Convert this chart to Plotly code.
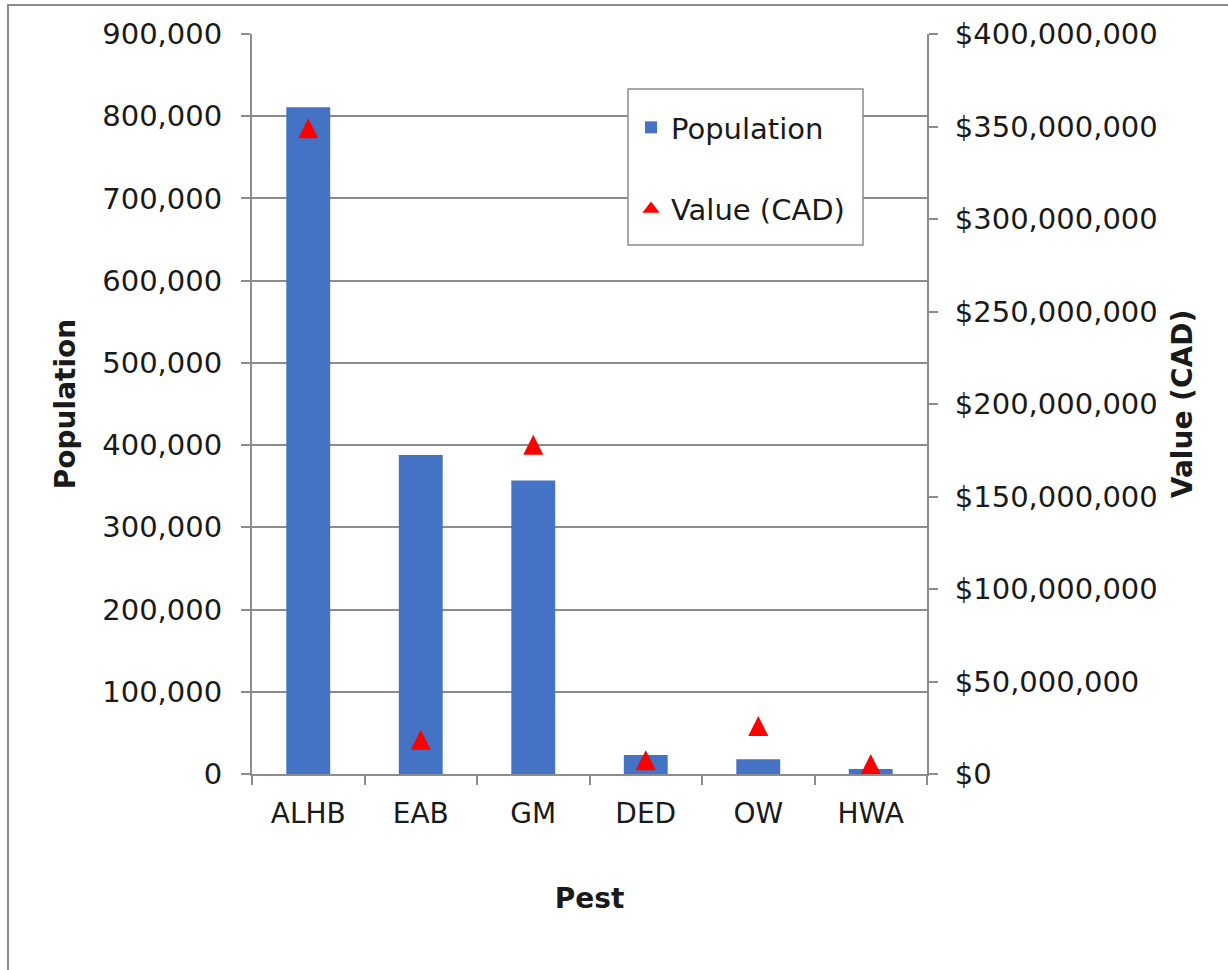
import plotly.graph_objects as go

# Pest categories and values
pests = ["ALHB", "EAB", "GM", "DED", "OW", "HWA"]
population = [811000, 388000, 357000, 23000, 18000, 6000]
value_cad = [349000000, 18500000, 178000000, 7500000, 26000000, 5400000]

left_ticks = [0, 100000, 200000, 300000, 400000, 500000, 600000, 700000, 800000, 900000]
right_ticks = [0, 50000000, 100000000, 150000000, 200000000, 250000000, 300000000, 350000000, 400000000]

FONT = "DejaVu Sans, Verdana, sans-serif"
GRAY = "#8c8c8c"
TXT = "#1a1a1a"
FS = 28
FS_TICK = 29
RED = "#FF0000"

# plot-area geometry in pixels
L, R, T, B = 252, 927, 34, 774
W, H = R - L, B - T

def px_x(x):
    return (x - L) / W

def px_y(y):
    return (B - y) / H

fig = go.Figure()

fig.add_trace(go.Bar(
    x=pests, y=population, name="Population",
    marker=dict(color="#4472C4", line=dict(width=0)),
    width=0.39, legendgroup="a",
))

# upright triangle centred on each value (arrow-down flipped, pulled back by half its height)
fig.add_trace(go.Scatter(
    x=pests, y=value_cad, name="Value (CAD)", yaxis="y2",
    mode="markers",
    marker=dict(symbol="arrow-down", angle=180, standoff=10, size=20,
                color=RED, line=dict(width=0)),
    legendgroup="b", showlegend=False,
))

# legend key for the value series
fig.add_trace(go.Scatter(
    x=[None], y=[None], name="Value (CAD)", yaxis="y2",
    mode="markers",
    marker=dict(symbol="triangle-up", size=15, color=RED, line=dict(width=0)),
    legendgroup="b",
))

fig.update_layout(
    width=1228, height=970,
    margin=dict(l=L, r=1228 - R, t=T, b=970 - B),
    paper_bgcolor="white", plot_bgcolor="white",
    font=dict(family=FONT, size=FS, color=TXT),
    showlegend=True,
    legend=dict(
        x=px_x(631), y=px_y(102), xanchor="left", yanchor="top",
        bgcolor="rgba(0,0,0,0)", borderwidth=0,
        font=dict(family=FONT, size=FS_TICK, color=TXT),
        tracegroupgap=41,
    ),
    xaxis=dict(
        type="category",
        showline=True, linecolor=GRAY, linewidth=2,
        ticks="outside", tickson="boundaries", ticklen=9, tickcolor=GRAY, tickwidth=2,
        ticklabelstandoff=13,
        showgrid=False,
        tickfont=dict(family=FONT, size=FS, color=TXT),
        title=dict(text="<b>Pest</b>", font=dict(family=FONT, size=FS, color=TXT), standoff=60),
    ),
    yaxis=dict(
        range=[0, 900000], tickvals=left_ticks, tickformat=",d",
        showline=True, linecolor=GRAY, linewidth=2,
        ticks="outside", ticklen=9, tickcolor=GRAY, tickwidth=2,
        ticklabelstandoff=13,
        showgrid=True, gridcolor=GRAY, gridwidth=1.5,
        zeroline=False,
        tickfont=dict(family=FONT, size=FS_TICK, color=TXT),
        title=dict(text="<b>Population</b>", font=dict(family=FONT, size=FS, color=TXT), standoff=18),
    ),
    yaxis2=dict(
        overlaying="y", side="right",
        range=[0, 400000000], tickvals=right_ticks, tickformat="$,d",
        showline=True, linecolor=GRAY, linewidth=2,
        ticks="outside", ticklen=9, tickcolor=GRAY, tickwidth=2,
        ticklabelstandoff=11,
        showgrid=False, zeroline=False,
        tickfont=dict(family=FONT, size=FS_TICK, color=TXT),
        title=dict(text="<b>Value (CAD)</b>", font=dict(family=FONT, size=FS, color=TXT), standoff=16),
    ),
    shapes=[
        # outer chart frame
        dict(type="rect", xref="paper", yref="paper",
             x0=px_x(8), x1=2.0, y0=-1.0, y1=px_y(5),
             line=dict(color=GRAY, width=2), fillcolor="rgba(0,0,0,0)", layer="below"),
        # legend frame
        dict(type="rect", xref="paper", yref="paper",
             x0=px_x(628), x1=px_x(863), y0=px_y(245), y1=px_y(89),
             line=dict(color=GRAY, width=1.5), fillcolor="white", layer="above"),
    ],
)

fig.write_html("out.html")
